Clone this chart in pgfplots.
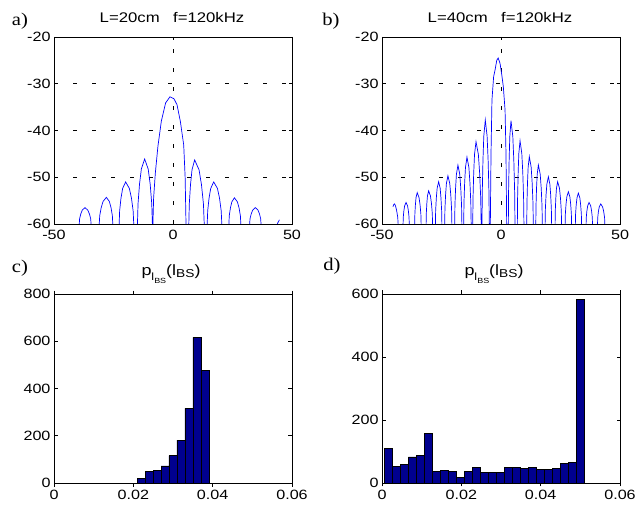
\documentclass[border=0pt]{standalone}
\usepackage{fontspec}
\setmainfont{Liberation Sans}
\newfontfamily\labfont{Liberation Serif}
\usepackage{graphicx}
\usepackage{pgfplots}
\pgfplotsset{compat=1.18}

\definecolor{matblue}{RGB}{0,0,255}
\definecolor{barblue}{RGB}{0,0,143}

% the reference text is stretched sideways
\newcommand{\sx}[1]{\scalebox{1.2}[1]{#1}}
\newcommand{\plbs}{\sx{p\raisebox{-5bp}{\fontsize{10.5}{11}\selectfont l\raisebox{-3bp}{\fontsize{7.5}{8}\selectfont BS}}(l\raisebox{-2bp}{\fontsize{11.5}{12}\selectfont BS})}}

\pgfplotsset{
  matstyle/.style={
    scale only axis,
    axis line style={black, line width=0.8bp},
    tick align=inside,
    major tick length=3.5bp,
    tick style={black, line width=0.7bp},
    every tick label/.append style={font=\fontsize{13.5}{14}\selectfont},
    scaled ticks=false,
  },
  beamstyle/.style={matstyle, width=238bp, height=187bp,
    xmin=-50, xmax=50, ymin=-60, ymax=-20,
    xtick={-50,0,50}, xticklabels={\sx{-50},\sx{0},\sx{50}},
    ytick={-60,-50,-40,-30,-20}, yticklabels={\sx{-60},\sx{-50},\sx{-40},\sx{-30},\sx{-20}},
    grid=major, major grid style={black, line width=0.6bp, dash pattern=on 4bp off 15bp},
    xticklabel style={yshift=-3bp}},
  histstyle/.style={matstyle, width=238bp, height=189bp,
    xmin=0, xmax=0.06, ymin=0,
    xtick={0,0.02,0.04,0.06}, xticklabels={\sx{0},\sx{0.02},\sx{0.04},\sx{0.06}},
    ybar, bar shift=0pt},
  beamline/.style={color=matblue, line width=0.7bp, mark=none},
  histbar/.style={fill=barblue, draw=black, line width=0.6bp}
}

\begin{document}
\begin{tikzpicture}
\path[use as bounding box] (0,0) rectangle (644bp,508bp);

% a) L=20cm
\begin{axis}[beamstyle, at={(54bp,284bp)}, anchor=south west]
\addplot[beamline] coordinates {
(-39.5,-61) (-39.25,-58.9) (-38.75,-57.86) (-38.13,-57.04) (-37.0,-56.5) (-35.79,-57.04) (-35.11,-57.86) (-34.57,-58.9) (-34.3,-61)
(-31.1,-61) (-30.79,-58.22) (-30.17,-56.51) (-29.40,-55.18) (-28.0,-54.3) (-26.74,-55.18) (-26.04,-56.51) (-25.48,-58.22) (-25.2,-61)
(-22.7,-61) (-22.42,-57.18) (-21.86,-54.49) (-21.16,-52.40) (-19.9,-51.0) (-18.33,-52.40) (-17.45,-54.49) (-16.75,-57.18) (-16.4,-61)
(-15.0,-61) (-14.69,-55.65) (-14.07,-51.49) (-13.30,-48.25) (-11.9,-46.1) (-10.42,-48.25) (-9.59,-51.49) (-8.93,-55.65) (-8.6,-61)
(-8.5,-61) (-8.14,-54.4) (-7.42,-49.1) (-6.34,-43.4) (-4.9,-38.0) (-3.1,-34.1) (-1.3,-32.8) (0.4,-33.2) (1.7,-34.5) (3.1,-38.1) (4.5,-43.1) (5.1,-50.0) (5.5,-61)
(6.6,-61) (6.85,-55.71) (7.35,-51.62) (7.98,-48.42) (9.1,-46.3) (10.95,-48.42) (11.97,-51.62) (12.79,-55.71) (13.2,-61)
(14.3,-61) (14.58,-57.18) (15.14,-54.49) (15.84,-52.40) (17.1,-51.0) (18.68,-52.40) (19.55,-54.49) (20.25,-57.18) (20.6,-61)
(23.4,-61) (23.64,-58.25) (24.12,-56.57) (24.72,-55.27) (25.8,-54.4) (27.06,-55.27) (27.76,-56.57) (28.32,-58.25) (28.6,-61)
(32.1,-61) (32.35,-58.9) (32.85,-57.86) (33.48,-57.04) (34.6,-56.5) (35.73,-57.04) (36.35,-57.86) (36.85,-58.9) (37.1,-61)
(43.3,-61) (44.0,-59.8) (44.7,-59.1)
};
\end{axis}

% b) L=40cm
\begin{axis}[beamstyle, at={(382bp,284bp)}, anchor=south west]
\addplot[beamline] coordinates {
(-45.4,-56.3) (-45.1,-55.9) (-44.8,-55.7) (-44.4,-56.0) (-43.9,-57.0) (-43.4,-58.5) (-43.1,-61)
(-41.2,-61) (-41.07,-58.56) (-40.81,-57.18) (-40.49,-56.11) (-39.9,-55.4) (-39.27,-56.11) (-38.92,-57.18) (-38.64,-58.56) (-38.5,-61)
(-36.3,-61) (-36.19,-57.90) (-35.97,-55.90) (-35.70,-54.34) (-35.2,-53.3) (-34.44,-54.34) (-34.01,-55.90) (-33.67,-57.90) (-33.5,-61)
(-31.5,-61) (-31.39,-57.78) (-31.17,-55.65) (-30.90,-54.0) (-30.4,-52.9) (-29.64,-54.0) (-29.21,-55.65) (-28.87,-57.78) (-28.7,-61)
(-27.6,-61) (-27.46,-57.17) (-27.18,-54.46) (-26.83,-52.35) (-26.2,-50.95) (-25.57,-52.35) (-25.22,-54.46) (-24.94,-57.17) (-24.8,-61)
(-23.7,-61) (-23.56,-56.78) (-23.28,-53.70) (-22.93,-51.30) (-22.3,-49.7) (-21.54,-51.30) (-21.11,-53.70) (-20.77,-56.78) (-20.6,-61)
(-19.5,-61) (-19.36,-56.06) (-19.08,-52.29) (-18.73,-49.35) (-18.1,-47.4) (-17.34,-49.35) (-16.91,-52.29) (-16.57,-56.06) (-16.4,-61)
(-15.7,-61) (-15.56,-55.52) (-15.28,-51.25) (-14.93,-47.92) (-14.3,-45.7) (-13.49,-47.92) (-13.04,-51.25) (-12.68,-55.52) (-12.5,-61)
(-11.9,-61) (-11.76,-54.49) (-11.48,-49.23) (-11.13,-45.13) (-10.5,-42.4) (-9.51,-45.13) (-8.96,-49.23) (-8.52,-54.49) (-8.3,-61)
(-8.0,-61) (-7.86,-53.04) (-7.58,-46.38) (-7.23,-41.2) (-6.6,-37.75) (-5.84,-41.2) (-5.41,-46.38) (-5.07,-53.04) (-4.9,-61)
(-4.5,-61) (-4.2,-45) (-3.8,-33.5) (-3.1,-28.5) (-2.4,-26.8) (-1.8,-25.0) (-1.2,-24.5) (-0.42,-25.6) (0.3,-28.0) (0.97,-30.6) (1.7,-35.6) (2.1,-45) (2.4,-61)
(3.07,-61) (3.18,-53.08) (3.41,-46.47) (3.69,-41.33) (4.2,-37.9) (4.97,-41.33) (5.39,-46.47) (5.73,-53.08) (5.9,-61)
(6.85,-61) (6.97,-54.43) (7.20,-49.11) (7.48,-44.96) (8.0,-42.2) (8.75,-44.96) (9.16,-49.11) (9.49,-54.43) (9.66,-61)
(10.8,-61) (10.91,-55.49) (11.13,-51.19) (11.41,-47.83) (11.9,-45.6) (12.67,-47.83) (13.09,-51.19) (13.43,-55.49) (13.6,-61)
(14.6,-61) (14.71,-56.06) (14.93,-52.29) (15.21,-49.35) (15.7,-47.4) (16.47,-49.35) (16.89,-52.29) (17.23,-56.06) (17.4,-61)
(18.5,-61) (18.64,-56.84) (18.92,-53.82) (19.27,-51.47) (19.9,-49.9) (20.53,-51.47) (20.88,-53.82) (21.16,-56.84) (21.3,-61)
(22.7,-61) (22.81,-57.17) (23.03,-54.46) (23.31,-52.35) (23.8,-50.95) (24.57,-52.35) (24.99,-54.46) (25.33,-57.17) (25.5,-61)
(26.9,-61) (27.04,-57.84) (27.32,-55.78) (27.67,-54.17) (28.3,-53.1) (28.93,-54.17) (29.28,-55.78) (29.56,-57.84) (29.7,-61)
(31.2,-61) (31.33,-57.93) (31.59,-55.96) (31.92,-54.42) (32.5,-53.4) (33.13,-54.42) (33.48,-55.96) (33.76,-57.93) (33.9,-61)
(35.7,-61) (35.83,-58.56) (36.09,-57.18) (36.42,-56.11) (37.0,-55.4) (37.68,-56.11) (38.05,-57.18) (38.35,-58.56) (38.5,-61)
(40.5,-61) (40.64,-58.65) (40.92,-57.37) (41.27,-56.37) (41.9,-55.7) (42.71,-56.37) (43.16,-57.37) (43.52,-58.65) (43.7,-61)
};
\end{axis}

% c) histogram
\begin{axis}[histstyle, at={(54bp,25bp)}, anchor=south west,
  ymax=800, ytick={0,200,400,600,800}, yticklabels={\sx{0},\sx{200},\sx{400},\sx{600},\sx{800}}, bar width=0.00201]
\addplot[histbar] coordinates {
(0.00185,0) (0.00386,0) (0.00587,0) (0.00788,0) (0.00989,0) (0.0119,0) (0.01391,0) (0.01592,0) (0.01793,0) (0.01994,0)
(0.02195,21) (0.02396,50) (0.02597,55) (0.02798,72) (0.02999,116) (0.032,181) (0.03401,316) (0.03602,616) (0.03803,476)
(0.04004,0) (0.04205,0) (0.04406,0) (0.04607,0) (0.04808,0) (0.05009,0)
};
\end{axis}

% d) histogram
\begin{axis}[histstyle, at={(382bp,25bp)}, anchor=south west,
  ymax=600, ytick={0,200,400,600}, yticklabels={\sx{0},\sx{200},\sx{400},\sx{600}}, bar width=0.00202]
\addplot[histbar] coordinates {
(0.0016,111) (0.00362,53) (0.00564,58) (0.00766,83) (0.00968,87) (0.0117,157) (0.01372,37) (0.01574,40) (0.01776,37) (0.01978,19)
(0.0218,37) (0.02382,49) (0.02584,33) (0.02786,33) (0.02988,33) (0.0319,49) (0.03392,49) (0.03594,46) (0.03796,49) (0.03998,42)
(0.042,42) (0.04402,46) (0.04604,62) (0.04806,66) (0.05008,582)
};
\end{axis}

% panel letters and titles
\node[font=\labfont\fontsize{18}{20}\selectfont] at (20bp,487bp) {\scalebox{1.15}[1]{a)}};
\node[font=\labfont\fontsize{18}{20}\selectfont] at (331bp,487bp) {\scalebox{1.15}[1]{b)}};
\node[font=\labfont\fontsize{18}{20}\selectfont] at (20bp,240bp) {\scalebox{1.15}[1]{c)}};
\node[font=\labfont\fontsize{18}{20}\selectfont] at (332bp,242bp) {\scalebox{1.15}[1]{d)}};
\node[font=\fontsize{14}{15}\selectfont] at (172bp,490bp) {\sx{L=20cm\hspace{0.8em}f=120kHz}};
\node[font=\fontsize{14}{15}\selectfont] at (500bp,490bp) {\sx{L=40cm\hspace{0.8em}f=120kHz}};
\node[font=\fontsize{15}{16}\selectfont, anchor=base] at (171bp,232bp) {\plbs};
\node[font=\fontsize{15}{16}\selectfont, anchor=base] at (494bp,232bp) {\plbs};
\end{tikzpicture}
\end{document}
